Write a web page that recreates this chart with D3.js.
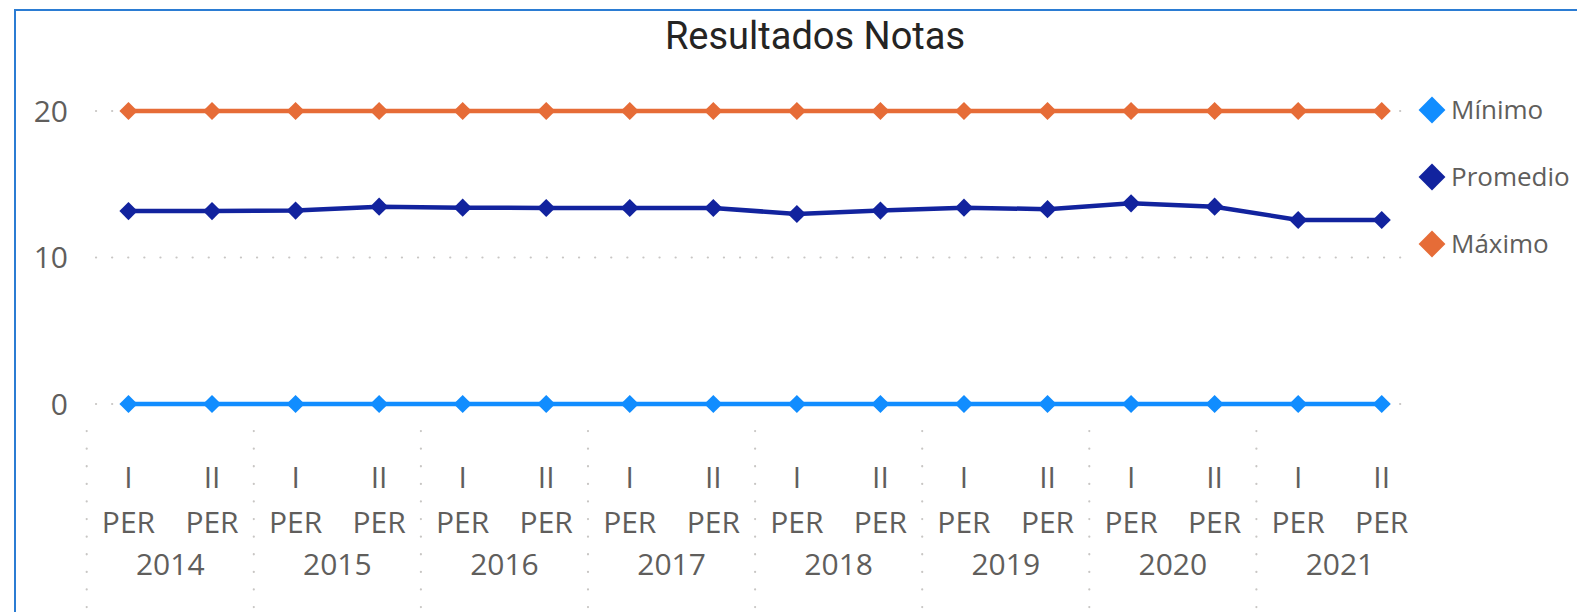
<!DOCTYPE html>
<html lang="es">
<head>
<meta charset="UTF-8">
<title>Resultados Notas</title>
<style>
    body { margin:0; background:#fff; }
    svg { display:block; }
    .axis text { font-family:"Open Sans", "Noto Sans", sans-serif; fill:#605E5C; }
</style>
</head>
<body>
<svg id="chart"></svg>
<script src="https://cdn.jsdelivr.net/npm/d3@7"></script>
<script>
    // data
    var years = ["2014","2015","2016","2017","2018","2019","2020","2021"];
    var periods = ["I","II"];
    var minimo   = [0,0,0,0,0,0,0,0,0,0,0,0,0,0,0,0];
    var promedio = [13.17,13.17,13.2,13.47,13.4,13.38,13.38,13.38,12.97,13.2,13.4,13.3,13.7,13.47,12.56,12.56];
    var maximo   = [20,20,20,20,20,20,20,20,20,20,20,20,20,20,20,20];
    var yTicks = [0,10,20];

    var seriesNames = ["Mínimo","Promedio","Máximo"];
    var seriesColors = ["#118DFF","#12239E","#E66C37"];
    var seriesValues = [minimo, promedio, maximo];

    var width = 1577, height = 612;

    var svg = d3.select("#chart")
        .attr("width", width)
        .attr("height", height);

    // frame of the visual
    svg.append("rect")
        .attr("x", 15).attr("y", 10)
        .attr("width", width + 20).attr("height", height + 20)
        .attr("fill", "none")
        .attr("stroke", "#2B7CD3")
        .attr("stroke-width", 2);

    svg.append("text")
        .attr("x", 815).attr("y", 49)
        .attr("text-anchor", "middle")
        .style("font-family", "Roboto, sans-serif")
        .style("font-size", "38px")
        .style("fill", "#252423")
        .text("Resultados Notas");

    var keys = [];
    years.forEach(function(y) {
        periods.forEach(function(p) { keys.push(y + "|" + p); });
    });

    var x = d3.scaleBand()
        .domain(keys)
        .range([86.7, 1423.5])
        .padding(0);

    var y = d3.scaleLinear()
        .domain([0, 20])
        .range([404, 111]);

    var xc = function(i) { return x(keys[i]) + x.bandwidth() / 2; };

    // horizontal dotted grid
    svg.append("g")
        .selectAll("line")
        .data(yTicks)
        .enter()
        .append("line")
        .attr("x1", 96).attr("x2", 1412)
        .attr("y1", function(d) { return y(d); })
        .attr("y2", function(d) { return y(d); })
        .attr("stroke", "#C8C6C4")
        .attr("stroke-width", 2.2)
        .attr("stroke-linecap", "round")
        .attr("stroke-dasharray", "0.1,16");

    // y axis labels
    var yAxis = svg.append("g").attr("class", "axis");
    yAxis.selectAll("text")
        .data(yTicks)
        .enter()
        .append("text")
        .attr("x", 68)
        .attr("y", function(d) { return y(d); })
        .attr("dy", "0.35em")
        .attr("text-anchor", "end")
        .style("font-size", "30px")
        .text(function(d) { return d; });

    // year separators
    svg.append("g")
        .selectAll("line")
        .data(years)
        .enter()
        .append("line")
        .attr("x1", function(d) { return x(d + "|I"); })
        .attr("x2", function(d) { return x(d + "|I"); })
        .attr("y1", 431).attr("y2", 620)
        .attr("stroke", "#C8C6C4")
        .attr("stroke-width", 2.2)
        .attr("stroke-linecap", "round")
        .attr("stroke-dasharray", "0.1,17.5");

    // x axis labels
    var xAxis = svg.append("g").attr("class", "axis");
    xAxis.selectAll(".per")
        .data(keys)
        .enter()
        .append("text")
        .attr("text-anchor", "middle")
        .attr("x", function(d) { return x(d) + x.bandwidth() / 2; })
        .attr("y", 477)
        .attr("dy", "0.35em")
        .style("font-size", "30px")
        .text(function(d) { return d.split("|")[1]; });

    xAxis.selectAll(".perw")
        .data(keys)
        .enter()
        .append("text")
        .attr("text-anchor", "middle")
        .attr("x", function(d) { return x(d) + x.bandwidth() / 2; })
        .attr("y", 522)
        .attr("dy", "0.35em")
        .style("font-size", "30px")
        .text("PER");

    xAxis.selectAll(".year")
        .data(years)
        .enter()
        .append("text")
        .attr("text-anchor", "middle")
        .attr("x", function(d) { return x(d + "|I") + x.bandwidth(); })
        .attr("y", 564)
        .attr("dy", "0.35em")
        .style("font-size", "30px")
        .text(function(d) { return d; });

    // series
    var line = d3.line()
        .x(function(d, i) { return xc(i); })
        .y(function(d) { return y(d); });

    var diamond = d3.symbol().type(d3.symbolSquare).size(165);

    seriesValues.forEach(function(vals, s) {
        var g = svg.append("g");
        g.append("path")
            .datum(vals)
            .attr("d", line)
            .attr("fill", "none")
            .attr("stroke", seriesColors[s])
            .attr("stroke-width", 4.5);
        g.selectAll("path.pt")
            .data(vals)
            .enter()
            .append("path")
            .attr("class", "pt")
            .attr("d", diamond)
            .attr("transform", function(d, i) {
                return "translate(" + xc(i) + "," + y(d) + ") rotate(45)";
            })
            .attr("fill", seriesColors[s]);
    });

    // legend
    var legend = svg.append("g")
        .selectAll("g")
        .data(seriesNames)
        .enter()
        .append("g")
        .attr("transform", function(d, i) { return "translate(1432," + (110 + i * 67) + ")"; });

    legend.append("path")
        .attr("d", d3.symbol().type(d3.symbolSquare).size(360))
        .attr("transform", "rotate(45)")
        .attr("fill", function(d, i) { return seriesColors[i]; });

    legend.append("text")
        .attr("x", 19)
        .attr("dy", "0.35em")
        .style("font-family", "\"Open Sans\", \"Noto Sans\", sans-serif")
        .style("font-size", "26px")
        .style("fill", "#605E5C")
        .text(function(d) { return d; });
</script>
</body>
</html>
